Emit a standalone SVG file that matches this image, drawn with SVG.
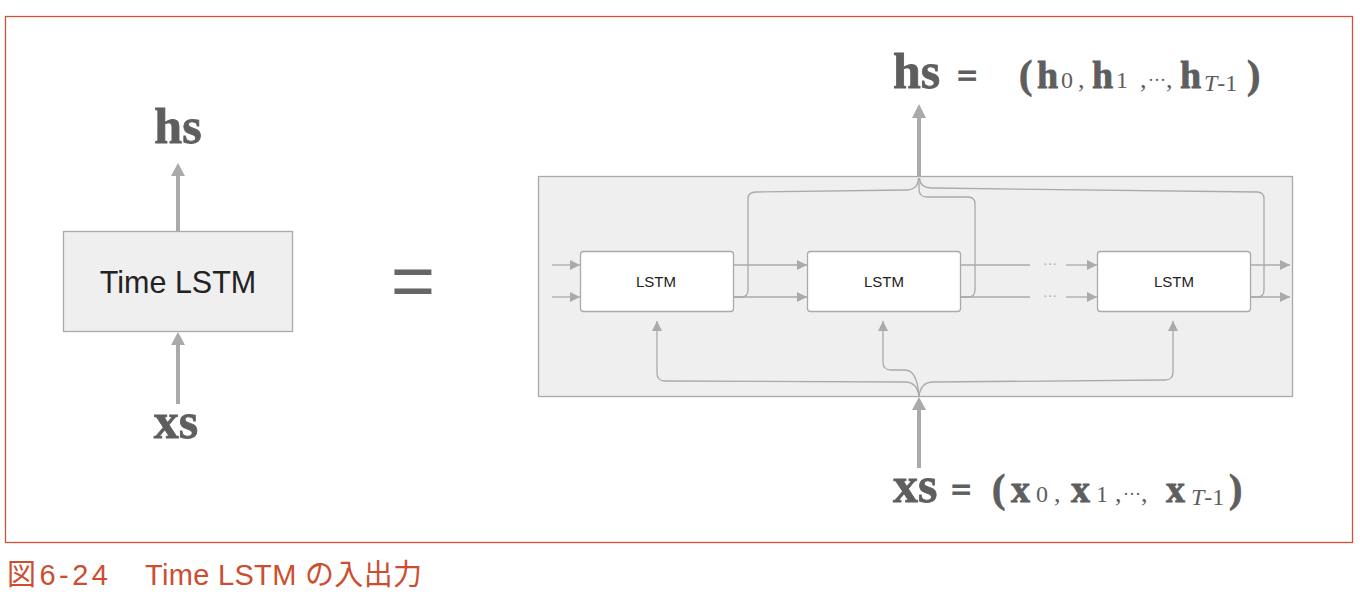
<svg xmlns="http://www.w3.org/2000/svg" width="1360" height="600" viewBox="0 0 1360 600">
<defs>
<style>
.frame{fill:#fff;stroke:#cf5436;stroke-width:1.3}
.box{fill:#efefef;stroke:#aaaaac;stroke-width:1.3}
.cell{fill:#fff;stroke:#aaaaac;stroke-width:1.3}
.ln{fill:none;stroke:#aaaaac;stroke-width:1.3}
.thick{fill:none;stroke:#aaaaac;stroke-width:4}
.head{fill:#aaaaac}
.math{font-family:"Liberation Serif","DejaVu Serif",serif;fill:#5e5e5e}
.b{font-weight:bold;stroke:#5e5e5e;stroke-width:0.8}
.sans{font-family:"Liberation Sans","Noto Sans",sans-serif}
.cap{font-family:"Liberation Sans","Noto Sans CJK JP",sans-serif;fill:#cc4e31;font-size:29px}
</style>
<marker id="a" markerUnits="userSpaceOnUse" markerWidth="10" markerHeight="10" refX="10" refY="5" orient="auto">
<path d="M0,0 L10,5 L0,10 z" fill="#aaaaac"/>
</marker>
</defs>
<rect x="0" y="0" width="1360" height="600" fill="#fff"/>
<rect class="frame" x="5.5" y="16.5" width="1347" height="526"/>

<g id="time-lstm">
<rect class="box" x="63.5" y="231.5" width="229" height="100"/>
<text class="sans" x="178" y="293" font-size="30.5" text-anchor="middle" fill="#222">Time LSTM</text>
</g>
<g id="hs-left"><text class="math b" x="178" y="143" font-size="50" text-anchor="middle">hs</text></g>
<g id="xs-left"><text class="math b" x="176" y="438" font-size="50" text-anchor="middle">xs</text></g>
<g id="equals"><text class="sans" x="413" y="307" font-size="76" text-anchor="middle" fill="#666">=</text></g>

<g id="unrolled">
<rect class="box" x="538.5" y="176.5" width="754" height="220"/>
</g>
<g id="lstm0"><rect class="cell" x="580.5" y="251.5" width="153" height="60" rx="3"/><text class="sans" x="656" y="287" font-size="15" text-anchor="middle" fill="#222">LSTM</text></g>
<g id="lstm1"><rect class="cell" x="807.5" y="251.5" width="153" height="60" rx="3"/><text class="sans" x="884" y="287" font-size="15" text-anchor="middle" fill="#222">LSTM</text></g>
<g id="lstm2"><rect class="cell" x="1097.5" y="251.5" width="153" height="60" rx="3"/><text class="sans" x="1174" y="287" font-size="15" text-anchor="middle" fill="#222">LSTM</text></g>

<g id="connectors">
<path class="thick" d="M178 231 V174"/>
<path class="head" d="M171 176 L178 163 L185 176 z"/>
<path class="thick" d="M178 404 V343"/>
<path class="head" d="M171 345 L178 332 L185 345 z"/>
<path class="ln" d="M552 265 H580" marker-end="url(#a)"/>
<path class="ln" d="M552 297 H580" marker-end="url(#a)"/>
<path class="ln" d="M734 265 H807" marker-end="url(#a)"/>
<path class="ln" d="M734 297 H807" marker-end="url(#a)"/>
<path class="ln" d="M961 265 H1030"/>
<path class="ln" d="M961 297 H1030"/>
<path class="ln" d="M1066 265 H1097" marker-end="url(#a)"/>
<path class="ln" d="M1066 297 H1097" marker-end="url(#a)"/>
<text class="sans" x="1050" y="268" font-size="14" text-anchor="middle" fill="#aaaaac">···</text>
<text class="sans" x="1050" y="300" font-size="14" text-anchor="middle" fill="#aaaaac">···</text>
<path class="ln" d="M1251 265 H1290" marker-end="url(#a)"/>
<path class="ln" d="M1251 297 H1290" marker-end="url(#a)"/>
<path class="ln" d="M734 297 H741 Q748 297 748 290 V199 Q748 192 756 192 L906 190 Q918 190 918.5 178"/>
<path class="ln" d="M919 178 V189 Q919 197 927 197 H968 Q975 197 975 204 V290 Q975 297 968 297 H961"/>
<path class="ln" d="M1251 297 H1257 Q1264 297 1264 290 V199 Q1264 192 1257 192 L932 188 Q920 188 919.5 178"/>
<path class="thick" d="M919 177 V116"/>
<path class="head" d="M912 118 L919 104 L926 118 z"/>
<path class="thick" d="M919 468 V407"/>
<path class="head" d="M912 410 L919 397 L926 410 z"/>
<path class="ln" d="M919 396 Q917 382 905 382 L665 381 Q657 381 657 373 V321" marker-end="url(#a)"/>
<path class="ln" d="M919 396 Q917 370 905 370 H891 Q883 370 883 362 V321" marker-end="url(#a)"/>
<path class="ln" d="M919 396 Q921 382 933 382 L1165 380 Q1173 380 1173 372 V321" marker-end="url(#a)"/>
</g>

<g id="hs-eq">
<text class="math" y="88">
<tspan class="b" x="893" font-size="50">hs</tspan>
<tspan class="b" x="957" font-size="36">=</tspan>
<tspan class="b" x="1019" font-size="40">(</tspan>
<tspan class="b" x="1037" font-size="38">h</tspan><tspan x="1061" font-size="24">0</tspan><tspan x="1078" font-size="26">,</tspan>
<tspan class="b" x="1092" font-size="38">h</tspan><tspan x="1116" font-size="24">1</tspan><tspan x="1140" font-size="26">,</tspan>
<tspan x="1148" dy="-2" font-size="18">···</tspan><tspan x="1166" dy="2" font-size="26">,</tspan>
<tspan class="b" x="1180" font-size="38">h</tspan><tspan x="1204" dy="3" font-size="24"><tspan font-style="italic">T</tspan>-1</tspan><tspan class="b" x="1247" dy="-3" font-size="40">)</tspan>
</text>
</g>
<g id="xs-eq">
<text class="math" y="502">
<tspan class="b" x="893" font-size="50">xs</tspan>
<tspan class="b" x="951" font-size="36">=</tspan>
<tspan class="b" x="992" font-size="40">(</tspan>
<tspan class="b" x="1011" font-size="38">x</tspan><tspan x="1036" font-size="24">0</tspan><tspan x="1054" font-size="26">,</tspan>
<tspan class="b" x="1071" font-size="38">x</tspan><tspan x="1096" font-size="24">1</tspan><tspan x="1115" font-size="26">,</tspan>
<tspan x="1123" dy="-2" font-size="18">···</tspan><tspan x="1141" dy="2" font-size="26">,</tspan>
<tspan class="b" x="1166" font-size="38">x</tspan><tspan x="1191" dy="3" font-size="24"><tspan font-style="italic">T</tspan>-1</tspan><tspan class="b" x="1229" dy="-3" font-size="40">)</tspan>
</text>
</g>

<g id="caption">
<text class="cap" x="7" y="585" textLength="101" lengthAdjust="spacing">図6-24</text>
<text class="cap" x="145" y="585" textLength="277" lengthAdjust="spacing">Time LSTM の入出力</text>
</g>
</svg>
